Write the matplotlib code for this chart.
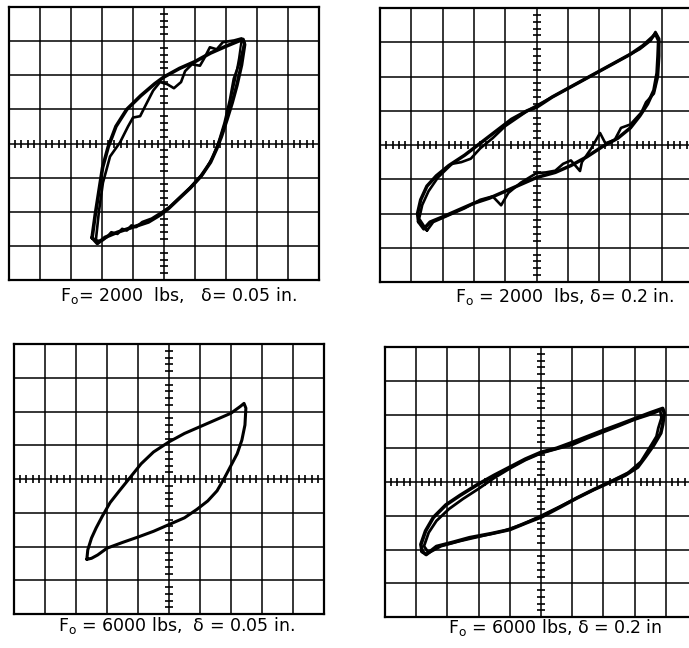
import matplotlib.pyplot as plt
import numpy as np

# Load-deflection loops, scope divisions (x: deflection, y: force)
# Each panel: list of traced passes, each pass as (x, y) lists

# F0 = 2000 lbs, delta = 0.05 in.
p1_outer_x = [-2.32, -2.22, -2.1, -1.98, -1.8, -1.55, -1.2, -0.75, -0.3, 0.0, 0.5, 1.0, 1.5, 2.0, 2.4, 2.55,
              2.6, 2.5, 2.35, 2.2, 2.03, 1.85, 1.7, 1.5, 1.2, 0.85, 0.5, 0.15, -0.1, -0.5, -1.0, -1.5, -1.9, -2.15, -2.32]
p1_outer_y = [-2.76, -2.1, -1.4, -0.7, -0.1, 0.5, 1.0, 1.4, 1.75, 1.95, 2.2, 2.4, 2.65, 2.85, 3.0, 3.05,
              2.9, 2.3, 1.7, 1.2, 0.7, 0.2, -0.15, -0.55, -0.95, -1.3, -1.6, -1.9, -2.08, -2.3, -2.45, -2.6, -2.75, -2.93, -2.76]
p1_inner_x = [-2.2, -2.1, -1.97, -1.74, -1.42, -1.16, -1.0, -0.77, -0.61, -0.35, -0.13, 0.1, 0.32, 0.55, 0.68, 0.9,
              1.16, 1.3, 1.48, 1.7, 1.9, 2.26, 2.5, 2.6, 2.45, 2.25, 2.13, 1.95, 1.75, 1.55, 1.25, 0.9, 0.55, 0.2,
              -0.05, -0.4, -0.7, -0.9, -1.05, -1.2, -1.35, -1.5, -1.7, -1.85, -2.0, -2.2]
p1_inner_y = [-2.85, -2.0, -1.15, -0.38, 0.03, 0.5, 0.76, 0.8, 1.09, 1.55, 1.8, 1.74, 1.62, 1.8, 2.12, 2.32,
              2.28, 2.5, 2.82, 2.76, 2.97, 3.02, 3.08, 2.95, 2.4, 1.9, 1.3, 0.6, 0.0, -0.45, -0.9, -1.25, -1.55, -1.85,
              -2.0, -2.2, -2.3, -2.45, -2.4, -2.55, -2.5, -2.65, -2.6, -2.75, -2.85, -2.85]
p1_third_x = [2.5, 2.42, 2.3, 2.15, 1.98, 1.8, 1.6, 1.35, 1.05, 0.7]
p1_third_y = [3.02, 2.5, 1.9, 1.3, 0.65, 0.1, -0.35, -0.75, -1.1, -1.42]

# F0 = 2000 lbs, delta = 0.2 in.
p2_outer_x = [-3.77, -3.8, -3.7, -3.5, -3.2, -2.8, -2.3, -1.8, -1.3, -0.8, -0.3, 0.0, 0.5, 1.0, 1.5, 2.0, 2.5,
              3.0, 3.4, 3.7, 3.8, 3.9, 3.88, 3.85, 3.75, 3.55, 3.3, 3.0, 2.6, 2.1, 1.6, 1.1, 0.6, 0.0, -0.5, -1.0,
              -1.5, -2.0, -2.5, -3.0, -3.4, -3.6, -3.77]
p2_outer_y = [-2.24, -2.0, -1.6, -1.2, -0.9, -0.6, -0.3, 0.05, 0.4, 0.75, 1.0, 1.1, 1.4, 1.65, 1.9, 2.15, 2.4,
              2.65, 2.9, 3.15, 3.25, 3.05, 2.6, 2.1, 1.6, 1.2, 0.85, 0.5, 0.2, -0.05, -0.35, -0.6, -0.8, -0.95, -1.15,
              -1.35, -1.55, -1.7, -1.9, -2.1, -2.25, -2.45, -2.24]
p2_inner_x = [-3.5, -3.75, -3.65, -3.45, -3.15, -2.7, -2.4, -2.1, -1.8, -1.4, -1.0, -0.6, -0.2, 0.3, 0.8, 1.3,
              1.8, 2.3, 2.8, 3.3, 3.65, 3.8, 3.92, 3.92, 3.88, 3.75, 3.5, 3.35, 3.0, 2.7, 2.5, 2.2, 2.03, 1.75,
              1.45, 1.39, 1.1, 0.85, 0.6, 0.3, 0.0, -0.5, -0.9, -1.13, -1.4, -1.8, -2.3, -2.8, -3.3, -3.5]
p2_inner_y = [-2.5, -2.15, -1.75, -1.35, -0.95, -0.55, -0.5, -0.4, -0.1, 0.2, 0.55, 0.8, 1.05, 1.3, 1.55, 1.8,
              2.05, 2.3, 2.55, 2.8, 3.05, 3.3, 3.1, 2.6, 2.0, 1.5, 1.25, 0.95, 0.6, 0.5, 0.15, 0.05, 0.35, -0.1,
              -0.5, -0.76, -0.45, -0.55, -0.75, -0.8, -0.82, -1.1, -1.4, -1.76, -1.5, -1.6, -1.85, -2.05, -2.25, -2.5]

# F0 = 6000 lbs, delta = 0.05 in.
p3_x = [-2.65, -2.62, -2.5, -2.35, -2.15, -1.9, -1.6, -1.25, -0.9, -0.5, 0.0, 0.5, 1.0, 1.5, 2.0, 2.3, 2.42,
        2.48, 2.45, 2.35, 2.2, 2.0, 1.8, 1.55, 1.25, 0.9, 0.5, 0.0, -0.5, -1.0, -1.5, -2.0, -2.3, -2.5, -2.65]
p3_y = [-2.38, -2.1, -1.75, -1.45, -1.1, -0.7, -0.35, 0.05, 0.45, 0.8, 1.1, 1.35, 1.55, 1.75, 1.95, 2.15, 2.24,
        2.1, 1.6, 1.15, 0.75, 0.4, 0.05, -0.35, -0.65, -0.9, -1.15, -1.35, -1.55, -1.72, -1.88, -2.05, -2.25, -2.35, -2.38]

# F0 = 6000 lbs, delta = 0.2 in.
p4_outer_x = [-3.81, -3.85, -3.7, -3.45, -3.05, -2.6, -2.06, -1.5, -1.0, -0.5, 0.0, 0.5, 0.94, 1.5, 2.0, 2.5,
              3.1, 3.5, 3.9, 3.95, 3.9, 3.84, 3.61, 3.35, 3.1, 2.7, 2.23, 1.7, 1.16, 0.6, 0.03, -0.5, -1.0, -1.6,
              -2.29, -2.8, -3.35, -3.68, -3.81]
p4_outer_y = [-2.06, -1.85, -1.45, -1.05, -0.68, -0.4, -0.09, 0.2, 0.44, 0.68, 0.88, 1.0, 1.15, 1.35, 1.53, 1.7,
              1.91, 2.05, 2.18, 2.05, 1.7, 1.45, 1.09, 0.75, 0.44, 0.2, 0.0, -0.22, -0.47, -0.75, -1.03, -1.22, -1.41,
              -1.53, -1.65, -1.78, -1.91, -2.15, -2.06]
p4_inner_x = [-3.6, -3.75, -3.6, -3.35, -2.95, -2.5, -2.0, -1.5, -1.0, -0.5, 0.0, 0.5, 1.0, 1.5, 2.0, 2.5, 3.0,
              3.5, 3.82, 3.86, 3.76, 3.7, 3.55, 3.2, 2.8, 2.3, 1.8, 1.2, 0.6, 0.0, -0.6, -1.2, -1.9, -2.6, -3.2, -3.6]
p4_inner_y = [-2.1, -1.9, -1.5, -1.15, -0.8, -0.5, -0.2, 0.12, 0.4, 0.65, 0.85, 0.98, 1.1, 1.3, 1.48, 1.66, 1.85,
              2.0, 2.12, 1.9, 1.6, 1.35, 1.12, 0.6, 0.28, 0.05, -0.18, -0.45, -0.73, -1.0, -1.26, -1.45, -1.6, -1.75, -1.9, -2.1]

labels = [r"F$_{\mathregular{o}}$= 2000  lbs,   δ= 0.05 in.",
          r"F$_{\mathregular{o}}$ = 2000  lbs, δ= 0.2 in.",
          r"F$_{\mathregular{o}}$ = 6000 lbs,  δ = 0.05 in.",
          r"F$_{\mathregular{o}}$ = 6000 lbs, δ = 0.2 in"]

traces = [
    [(p1_outer_x, p1_outer_y, 2.6), (p1_inner_x, p1_inner_y, 1.9), (p1_third_x, p1_third_y, 1.6)],
    [(p2_outer_x, p2_outer_y, 2.5), (p2_inner_x, p2_inner_y, 1.9)],
    [(p3_x, p3_y, 2.2)],
    [(p4_outer_x, p4_outer_y, 2.6), (p4_inner_x, p4_inner_y, 2.0)],
]

W, H = 689, 648
# panel boxes in pixels: left, top, width, height
boxes = [(9, 7, 310, 273), (380, 8, 313, 274), (14, 344, 310, 270), (385, 347, 312, 270)]
label_pos = [(178, 295), (565, 297), (176, 625), (555, 627)]

fig = plt.figure(figsize=(W / 100, H / 100), dpi=100)

# sub-division marks on the centre lines
sub_x = np.arange(-25, 26) * 0.2
sub_x = sub_x[np.abs(sub_x - np.round(sub_x)) > 1e-6]
sub_y = np.arange(-20, 21) * 0.2
sub_y = sub_y[np.abs(sub_y - np.round(sub_y)) > 1e-6]

for (l, t, w, h), panel, lab, (lx, ly) in zip(boxes, traces, labels, label_pos):
    ax = fig.add_axes([l / W, 1 - (t + h) / H, w / W, h / H])
    ax.set_xlim(-5, 5)
    ax.set_ylim(-4, 4)
    ax.set_xticks(np.arange(-5, 6))
    ax.set_yticks(np.arange(-4, 5))
    ax.tick_params(length=0, labelbottom=False, labelleft=False)
    ax.grid(True, color="k", lw=1.1)
    ax.set_axisbelow(True)
    for s in ax.spines.values():
        s.set_linewidth(1.6)

    ax.plot(sub_x, np.zeros_like(sub_x), ls="none", marker="|", ms=5.5, mew=1.2, color="k")
    ax.plot(np.zeros_like(sub_y), sub_y, ls="none", marker="_", ms=5.5, mew=1.2, color="k")

    for xs, ys, lw in panel:
        ax.plot(xs, ys, color="k", lw=lw, solid_joinstyle="round", solid_capstyle="round")

    fig.text(lx / W, 1 - ly / H, lab, ha="center", va="center", fontsize=12.5)

plt.savefig("out.png", dpi=100)
